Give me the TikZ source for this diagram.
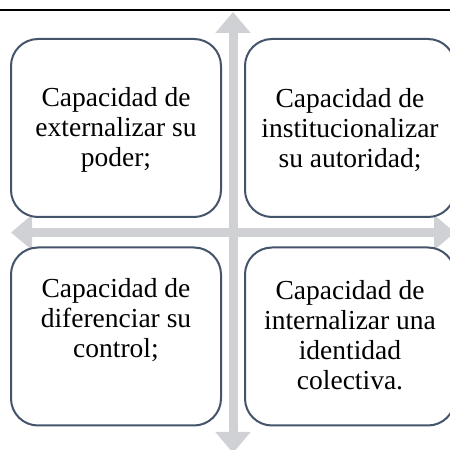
\documentclass[tikz,border=0pt]{standalone}
\usepackage{fontspec}
\setmainfont{Liberation Serif}
\usetikzlibrary{arrows.meta}
\definecolor{boxline}{HTML}{44546A}
\definecolor{arrowgray}{HTML}{D0D1D5}
\begin{document}
\begin{tikzpicture}[x=1pt,y=1pt,
  capbox/.style={draw=boxline, line width=2pt, fill=white, rounded corners=27pt,
    minimum width=210pt, minimum height=178pt, inner sep=0pt},
  captext/.style={align=center, font=\fontsize{27.5}{30}\selectfont, inner sep=0pt},
  bigarrow/.style={draw=arrowgray, line width=9pt,
    {Triangle[width=34pt,length=21pt]}-{Triangle[width=34pt,length=21pt]}}]
\useasboundingbox (0,0) rectangle (450,450);
\clip (0,0) rectangle (450,450);
\fill[white] (0,0) rectangle (450,450);
% top rule
\coordinate (ruleL) at (0,440);
\coordinate (ruleR) at (450,440);
\draw[line width=2.4pt] (ruleL) -- (ruleR);
% arrows
\coordinate (vtop) at (233,438);
\coordinate (vbot) at (233,-3);
\coordinate (hleft) at (11,217.5);
\coordinate (hright) at (455,217.5);
\draw[bigarrow] (vbot) -- (vtop);
\draw[bigarrow] (hleft) -- (hright);
% boxes
\node[capbox] (tl) at (116,322) {};
\node[capbox] (tr) at (350,322) {};
\node[capbox] (bl) at (116,113.5) {};
\node[capbox] (br) at (350,113.5) {};
% texts
\node[captext] (tltext) at (116,320) {Capacidad de\\externalizar su\\poder;};
\node[captext] (trtext) at (350,320) {Capacidad de\\institucionalizar\\su autoridad;};
\node[captext] (bltext) at (116,130) {Capacidad de\\diferenciar su\\control;};
\node[captext] (brtext) at (350,115) {Capacidad de\\internalizar una\\identidad\\colectiva.};
\end{tikzpicture}
\end{document}
